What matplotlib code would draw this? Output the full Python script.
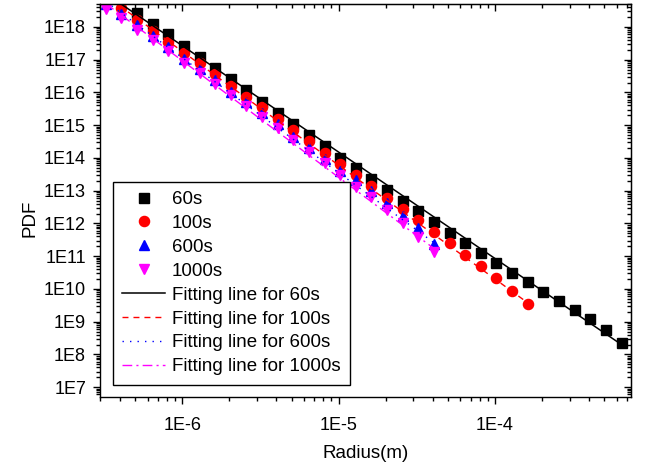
import numpy as np
import matplotlib
matplotlib.use("Agg")
import matplotlib.pyplot as plt
from matplotlib.ticker import LogLocator, FuncFormatter, NullFormatter

plt.rcParams['font.family'] = ['Liberation Sans', 'DejaVu Sans']

# radius bins (m), 0.1 decade apart
radius = [3.24e-7, 4.07e-7, 5.13e-7, 6.46e-7, 8.13e-7, 1.02e-6, 1.29e-6, 1.62e-6,
          2.04e-6, 2.57e-6, 3.24e-6, 4.07e-6, 5.13e-6, 6.46e-6, 8.13e-6, 1.02e-5,
          1.29e-5, 1.62e-5, 2.04e-5, 2.57e-5, 3.24e-5, 4.07e-5, 5.13e-5, 6.46e-5,
          8.13e-5, 1.02e-4, 1.29e-4, 1.62e-4, 2.04e-4, 2.57e-4, 3.24e-4, 4.07e-4,
          5.13e-4, 6.46e-4]

# PDF for each sampling time
pdf_60 = [2.61e18, 1.23e18, 5.96e17, 2.67e17, 1.23e17, 5.46e16, 2.52e16, 1.19e16,
          5.21e15, 2.40e15, 1.09e15, 5.01e14, 2.31e14, 1.02e14, 5.04e13, 2.27e13,
          1.05e13, 4.94e12, 2.34e12, 1.11e12, 5.21e11, 2.47e11, 1.22e11, 6.05e10,
          3.00e10, 1.59e10, 8.22e9, 4.37e9, 2.27e9, 1.18e9, 5.57e8, 2.19e8]
pdf_100 = [7.64e18, 3.71e18, 1.63e18, 7.67e17, 3.54e17, 1.57e17, 7.74e16, 3.57e16,
           1.60e16, 7.40e15, 3.52e15, 1.55e15, 7.13e14, 3.22e14, 1.45e14, 6.53e13,
           3.01e13, 1.39e13, 5.85e12, 2.70e12, 1.24e12, 5.47e11, 2.47e11, 1.11e11,
           5.12e10, 2.20e10, 8.83e9, 3.40e9]
pdf_600 = [5.19e18, 2.52e18, 1.11e18, 5.21e17, 2.40e17, 1.06e17, 5.26e16, 2.43e16,
           1.05e16, 5.21e15, 2.40e15, 1.09e15, 4.45e14, 1.97e14, 9.08e13, 4.13e13,
           2.05e13, 1.00e13, 4.30e12, 1.69e12, 7.00e11, 2.36e11]
pdf_1000 = [3.45e18, 1.83e18, 8.34e17, 3.94e17, 1.82e17, 8.04e16, 3.97e16, 1.83e16,
            8.34e15, 3.85e15, 1.74e15, 8.04e14, 3.52e14, 1.55e14, 7.14e13, 3.01e13,
            1.32e13, 6.28e12, 2.57e12, 1.01e12, 3.94e11, 1.37e11]

r_60 = radius[2:]
r_100 = radius[:len(pdf_100)]
r_600 = radius[:len(pdf_600)]
r_1000 = radius[:len(pdf_1000)]

# power-law fits  PDF = C * r**n
fit_60 = (8.47e-3, -3.25)
fit_100 = (2.50e-4, -3.476)
fit_600 = (1.00e-4, -3.51)
fit_1000 = (3.91e-5, -3.563)

fig = plt.figure(figsize=(6.46, 4.68), dpi=100)
ax = fig.add_axes([100 / 646, 1 - 397 / 468, 531 / 646, 393 / 468])

ax.plot(r_60, pdf_60, 's', color='black', ms=6.8, label='60s')
ax.plot(r_100, pdf_100, 'o', color='red', ms=7.3, label='100s')
ax.plot(r_600, pdf_600, '^', color='blue', ms=7.8, label='600s')
ax.plot(r_1000, pdf_1000, 'v', color='magenta', ms=7.8, label='1000s')

def fit_line(r, fit):
    rr = np.array([radius[0], r[-1]])
    return rr, fit[0] * rr ** fit[1]

x, y = fit_line(r_60, fit_60)
ax.plot(x, y, '-', color='black', lw=1.1, label='Fitting line for 60s')
x, y = fit_line(r_100, fit_100)
ax.plot(x, y, color='red', lw=1.0, ls=(0, (4.3, 3.6)), label='Fitting line for 100s')
x, y = fit_line(r_600, fit_600)
ax.plot(x, y, color='blue', lw=1.0, ls=(0, (1, 4.4)), label='Fitting line for 600s')
x, y = fit_line(r_1000, fit_1000)
ax.plot(x, y, color='magenta', lw=1.0, ls=(0, (7, 3, 1.5, 3)), label='Fitting line for 1000s')

ax.set_xscale('log')
ax.set_yscale('log')
ax.set_xlim(2.98e-7, 7.4e-4)
ax.set_ylim(10 ** 6.7, 10 ** 18.7)

fmt = FuncFormatter(lambda v, _: "1E%d" % int(round(np.log10(v))))
for axis in (ax.xaxis, ax.yaxis):
    axis.set_major_locator(LogLocator(base=10, numticks=30))
    axis.set_minor_locator(LogLocator(base=10, subs=np.arange(2, 10), numticks=300))
    axis.set_major_formatter(fmt)
    axis.set_minor_formatter(NullFormatter())

ax.tick_params(which='both', direction='out', width=1, labelsize=13)
ax.tick_params(which='major', length=5)
ax.tick_params(which='minor', length=3)
ax.tick_params(axis='x', pad=9.5)
ax.tick_params(axis='y', pad=5)
for s in ax.spines.values():
    s.set_linewidth(1.0)

# inward ticks on the top and right frame
top = ax.secondary_xaxis('top')
right = ax.secondary_yaxis('right')
for sec, axis in ((top, top.xaxis), (right, right.yaxis)):
    axis.set_major_locator(LogLocator(base=10, numticks=30))
    axis.set_minor_locator(LogLocator(base=10, subs=np.arange(2, 10), numticks=300))
    axis.set_major_formatter(NullFormatter())
    axis.set_minor_formatter(NullFormatter())
    sec.tick_params(which='both', direction='in', width=1)
    sec.tick_params(which='major', length=5)
    sec.tick_params(which='minor', length=3)

ax.set_xlabel('Radius(m)', fontsize=13.5, labelpad=8)
ax.set_ylabel('PDF', fontsize=13.5)
ax.yaxis.set_label_coords(-0.115, 0.455)

leg = ax.legend(loc='upper left', bbox_to_anchor=(0.024, 0.548), borderaxespad=0,
                fontsize=13.5, numpoints=1, handlelength=2.3, handletextpad=0.35,
                labelspacing=0.36, borderpad=0.5, fancybox=False, framealpha=1)
leg.get_frame().set_edgecolor('black')
leg.get_frame().set_linewidth(1.0)

fig.savefig('out.png', dpi=100)
